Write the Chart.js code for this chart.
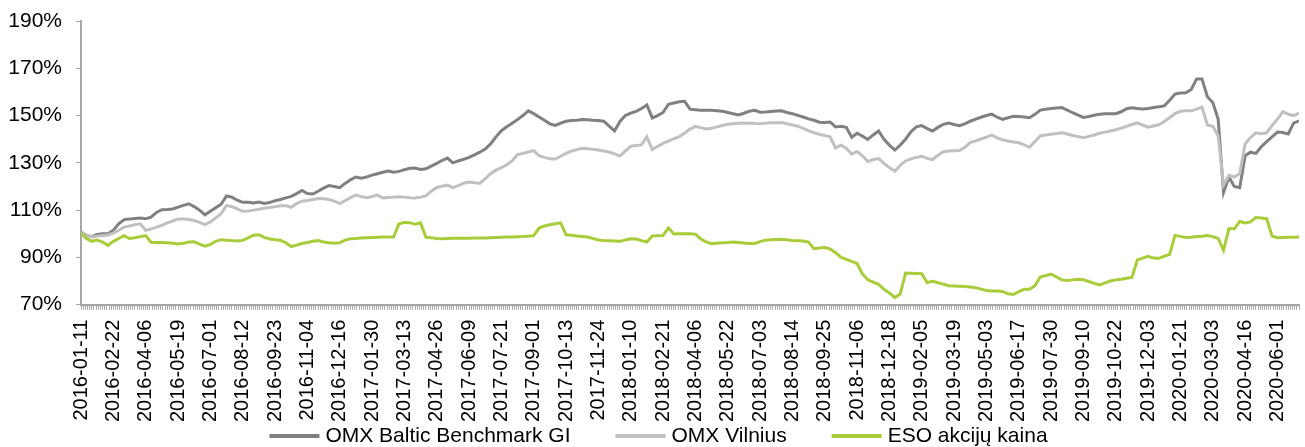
<!DOCTYPE html>
<html>
<head>
<meta charset="utf-8">
<script src="https://cdn.jsdelivr.net/npm/chart.js@4/dist/chart.umd.min.js"></script>
<style>
  html, body { margin: 0; padding: 0; background: #fff; }
  #wrap { width: 1305px; height: 447px; }
</style>
</head>
<body>
<div id="wrap"><canvas id="chart" width="1305" height="447"></canvas></div>
<script>
// ── DATA ─────────────────────────────────────────────────────
// one value per week (every 5 trading days), index rebased to 100%
const stepDays = 5;
const tickEvery = 30;   // trading days between date labels

const tickLabels = [
  '2016-01-11','2016-02-22','2016-04-06','2016-05-19','2016-07-01','2016-08-12',
  '2016-09-23','2016-11-04','2016-12-16','2017-01-30','2017-03-13','2017-04-26',
  '2017-06-09','2017-07-21','2017-09-01','2017-10-13','2017-11-24','2018-01-10',
  '2018-02-21','2018-04-06','2018-05-22','2018-07-03','2018-08-14','2018-09-25',
  '2018-11-06','2018-12-18','2019-02-05','2019-03-19','2019-05-03','2019-06-17',
  '2019-07-30','2019-09-10','2019-10-22','2019-12-03','2020-01-21','2020-03-03',
  '2020-04-16','2020-06-01'
];

const seriesNames = ['OMX Baltic Benchmark GI', 'OMX Vilnius', 'ESO akcijų kaina'];

const baltic = [
  100.7, 99.3, 98.8, 99.7, 100.0, 100.0, 101.5, 104.2, 106.0, 106.2,
  106.5, 106.7, 106.4, 107.0, 109.0, 110.2, 110.3, 110.5, 111.3, 112.0,
  112.7, 111.5, 110.0, 108.0, 109.5, 111.0, 112.5, 116.0, 115.5, 114.2,
  113.3, 113.3, 113.0, 113.4, 112.8, 113.2, 114.0, 114.5, 115.2, 115.8,
  117.0, 118.3, 117.0, 116.8, 118.0, 119.3, 120.4, 120.0, 119.5, 121.3,
  122.8, 124.0, 123.5, 124.0, 124.8, 125.4, 126.0, 126.5, 126.0, 126.4,
  127.1, 127.7, 127.8, 127.2, 127.5, 128.6, 129.8, 131.0, 132.0, 130.0,
  130.8, 131.5, 132.3, 133.4, 134.5, 135.8, 138.0, 141.0, 143.6, 145.3,
  146.8, 148.3, 150.0, 152.0, 150.8, 149.4, 148.0, 146.5, 145.8, 146.8,
  147.6, 147.9, 148.0, 148.3, 148.2, 148.0, 147.9, 147.6, 145.5, 143.5,
  147.5, 150.0, 151.0, 151.8, 153.0, 154.5, 149.0, 150.0, 151.3, 154.8,
  155.3, 155.8, 156.0, 152.7, 152.5, 152.3, 152.3, 152.2, 152.0, 151.8,
  151.3, 150.8, 150.3, 151.0, 151.8, 152.2, 151.4, 151.5, 151.7, 151.9,
  152.0, 151.3, 150.8, 150.1, 149.4, 148.6, 148.0, 147.2, 147.1, 147.3,
  145.2, 145.5, 145.0, 140.8, 142.5, 141.3, 139.9, 141.8, 143.5, 140.0,
  137.5, 135.4, 137.5, 140.0, 143.2, 145.2, 145.8, 144.5, 143.5, 145.0,
  146.3, 146.8, 146.2, 145.7, 146.5, 147.6, 148.5, 149.3, 150.0, 150.6,
  149.3, 148.4, 149.1, 149.7, 149.6, 149.4, 149.1, 150.5, 152.3, 152.7,
  153.0, 153.2, 153.4, 152.3, 151.2, 150.2, 149.2, 149.6, 150.1, 150.6,
  150.8, 150.8, 150.8, 151.6, 152.9, 153.3, 153.0, 152.8, 153.0, 153.4,
  153.7, 154.1, 156.5, 159.1, 159.5, 159.6, 161.0, 165.5, 165.5, 158.0,
  155.5, 148.5, 117.5, 124.0, 120.0, 119.5, 133.0, 134.5, 134.0, 136.8,
  139.0, 141.0, 143.0, 142.8, 142.2, 146.8, 147.7
];

const vilnius = [
  100.7, 99.5, 98.6, 99.0, 99.3, 99.5, 100.3, 101.5, 102.8, 103.3,
  103.8, 104.2, 101.5, 102.0, 102.8, 103.6, 104.6, 105.4, 106.3, 106.3,
  106.0, 105.6, 104.8, 103.9, 105.0, 106.7, 108.5, 112.0, 111.5, 110.5,
  109.5, 109.6, 110.0, 110.4, 110.8, 111.1, 111.4, 111.8, 111.8, 111.2,
  112.8, 113.8, 114.1, 114.5, 114.9, 114.8, 114.5, 113.8, 112.8, 114.0,
  115.3, 116.4, 115.8, 115.3, 115.8, 116.4, 115.1, 115.3, 115.5, 115.7,
  115.5, 115.2, 115.1, 115.5, 116.0, 118.0, 119.6, 120.1, 120.6, 119.5,
  120.4, 121.4, 121.9, 121.6, 121.3, 123.3, 125.4, 126.9, 128.0, 129.2,
  130.8, 133.5, 134.0, 134.6, 135.2, 133.0, 132.3, 131.7, 131.6, 132.8,
  134.0, 135.0, 135.6, 136.2, 136.0, 135.7, 135.4, 135.0, 134.6, 133.8,
  132.9, 135.0, 137.0, 137.3, 137.6, 141.0, 135.6, 137.0, 138.2, 139.2,
  140.2, 141.1, 142.5, 144.3, 145.4, 144.9, 144.3, 144.6, 145.2, 145.8,
  146.3, 146.5, 146.7, 146.9, 146.8, 146.6, 146.5, 146.8, 147.0, 147.0,
  147.0, 146.5, 146.0, 145.5, 144.6, 143.6, 142.7, 142.1, 141.6, 141.0,
  136.3, 137.5, 136.2, 133.7, 134.8, 133.0, 130.6, 131.4, 131.8, 129.8,
  128.0, 126.4, 128.9, 130.8, 131.7, 132.3, 132.8, 131.9, 131.4, 133.2,
  134.7, 135.0, 135.1, 135.2, 136.6, 138.6, 139.3, 140.1, 140.9, 141.7,
  140.6, 139.7, 139.2, 138.8, 138.5, 137.6, 136.6, 139.0, 141.4, 141.8,
  142.1, 142.4, 142.7, 142.2, 141.6, 141.1, 140.6, 141.2, 141.8, 142.5,
  143.0, 143.5, 144.0, 144.7, 145.4, 146.2, 146.9, 146.0, 145.1, 145.6,
  146.1, 147.5, 149.2, 150.8, 151.8, 152.0, 152.0, 152.7, 153.6, 146.0,
  145.5, 141.5, 120.6, 124.7, 124.0, 125.5, 138.0, 140.7, 142.7, 142.3,
  142.7, 145.8, 148.5, 151.6, 150.6, 150.0, 151.0
];

const eso = [
  100.3, 98.0, 96.8, 97.3, 96.5, 95.1, 96.8, 98.0, 99.2, 98.0,
  98.3, 98.8, 99.2, 96.4, 96.3, 96.3, 96.2, 96.0, 95.7, 96.0,
  96.5, 96.6, 95.6, 94.8, 95.5, 96.8, 97.5, 97.3, 97.1, 96.9,
  97.2, 98.3, 99.4, 99.6, 98.5, 97.8, 97.5, 97.3, 96.2, 94.6,
  95.2, 95.9, 96.3, 96.8, 97.1, 96.5, 96.2, 96.0, 96.2, 97.3,
  97.9, 98.0, 98.2, 98.3, 98.4, 98.5, 98.6, 98.6, 98.6, 104.2,
  104.8, 104.7, 104.0, 104.6, 98.5, 98.3, 98.0, 97.9, 98.0, 98.1,
  98.1, 98.1, 98.1, 98.2, 98.2, 98.2, 98.3, 98.4, 98.5, 98.6,
  98.6, 98.7, 98.8, 99.0, 99.2, 102.4, 103.3, 103.8, 104.2, 104.6,
  99.6, 99.4, 99.1, 98.8, 98.6, 98.0, 97.4, 97.1, 97.0, 96.9,
  96.8, 97.4, 97.9, 97.8, 97.1, 96.5, 99.1, 99.2, 99.3, 102.5,
  99.9, 100.0, 100.0, 100.0, 99.8, 97.8, 96.6, 95.8, 96.0, 96.2,
  96.3, 96.5, 96.3, 96.1, 95.9, 95.9, 96.7, 97.3, 97.5, 97.6,
  97.7, 97.5, 97.2, 97.1, 96.9, 96.5, 93.7, 94.0, 94.2, 93.6,
  92.0, 90.1, 89.2, 88.3, 87.4, 83.0, 80.5, 79.5, 78.6, 76.5,
  75.0, 73.0, 74.5, 83.4, 83.3, 83.2, 83.1, 79.4, 79.9, 79.3,
  78.7, 78.0, 77.9, 77.8, 77.7, 77.5, 77.2, 76.6, 76.0, 75.8,
  75.8, 75.6, 74.6, 74.3, 75.5, 76.5, 76.5, 78.0, 81.7, 82.3,
  82.9, 81.7, 80.5, 80.2, 80.5, 80.8, 80.6, 79.8, 79.0, 78.4,
  79.2, 80.0, 80.5, 80.8, 81.2, 81.5, 88.9, 89.7, 90.5, 89.7,
  89.6, 90.5, 91.3, 99.3, 98.9, 98.4, 98.5, 98.8, 99.0, 99.3,
  98.8, 98.0, 93.0, 102.1, 102.1, 105.2, 104.6, 105.0, 106.9, 106.7,
  106.4, 99.0, 98.3, 98.4, 98.5, 98.5, 98.6
];

// ── STYLE ────────────────────────────────────────────────────
const FONT = '"Liberation Sans", Arial, sans-serif';
const AXIS = '#a6a6a6';
const colors = ['#808080', '#c0c0c0', '#a8cc3a'];

// trading-day position of each weekly point
const days = baltic.map((_, i) => i * stepDays);

// ── LEGEND (line swatch + text, drawn at the bottom) ─────────
const lineLegend = {
  id: 'lineLegend',
  afterDraw(chart) {
    const ctx = chart.ctx;
    const sets = chart.data.datasets;
    const swatch = 50, textGap = 6, itemGap = 45;
    ctx.save();
    ctx.font = '21px ' + FONT;
    const widths = sets.map(d => swatch + textGap + ctx.measureText(d.label).width);
    const total = widths.reduce((a, b) => a + b, 0) + itemGap * (sets.length - 1);
    let x = (chart.width - total) / 2 + 6;
    const y = chart.height - 11;
    sets.forEach((d, i) => {
      ctx.strokeStyle = d.borderColor;
      ctx.lineWidth = 4;
      ctx.beginPath();
      ctx.moveTo(x, y);
      ctx.lineTo(x + swatch, y);
      ctx.stroke();
      ctx.fillStyle = '#000';
      ctx.textBaseline = 'middle';
      ctx.fillText(d.label, x + swatch + textGap, y);
      x += widths[i] + itemGap;
    });
    ctx.restore();
  }
};

const mkSet = (label, data, color, order) => ({
  label,
  data: data.map((v, i) => ({ x: days[i], y: v })),
  borderColor: color,
  backgroundColor: color,
  borderWidth: 3,
  pointRadius: 0,
  tension: 0,
  fill: false,
  order
});

new Chart(document.getElementById('chart'), {
  type: 'line',
  data: {
    datasets: [
      mkSet(seriesNames[0], baltic, colors[0], 3),
      mkSet(seriesNames[1], vilnius, colors[1], 2),
      mkSet(seriesNames[2], eso, colors[2], 1)
    ]
  },
  options: {
    responsive: false,
    devicePixelRatio: 1,
    animation: false,
    layout: { padding: { top: 21, left: 9, right: 6, bottom: 15 } },
    plugins: {
      legend: { display: false },
      tooltip: { enabled: false }
    },
    scales: {
      x: {
        type: 'linear',
        min: 0,
        max: days[days.length - 1],
        border: { color: AXIS, width: 2 },
        grid: { drawOnChartArea: false, color: AXIS, tickLength: 5 },
        afterFit: s => { s.paddingLeft = 0; s.paddingRight = 0; },
        ticks: {
          stepSize: 2,
          autoSkip: false,
          minRotation: 90,
          maxRotation: 90,
          padding: 10,
          color: '#000',
          font: { family: FONT, size: 20 },
          callback: v => (v % tickEvery === 0 ? (tickLabels[v / tickEvery] || '') : '')
        }
      },
      y: {
        min: 70,
        max: 190,
        border: { color: AXIS, width: 2 },
        grid: { drawOnChartArea: false, color: AXIS, tickLength: 5 },
        afterFit: s => { s.width = 72; s.paddingTop = 0; s.paddingBottom = 0; },
        ticks: {
          stepSize: 20,
          padding: 14,
          color: '#000',
          font: { family: FONT, size: 21 },
          callback: v => v + '%'
        }
      }
    }
  },
  plugins: [lineLegend]
});
</script>
</body>
</html>
